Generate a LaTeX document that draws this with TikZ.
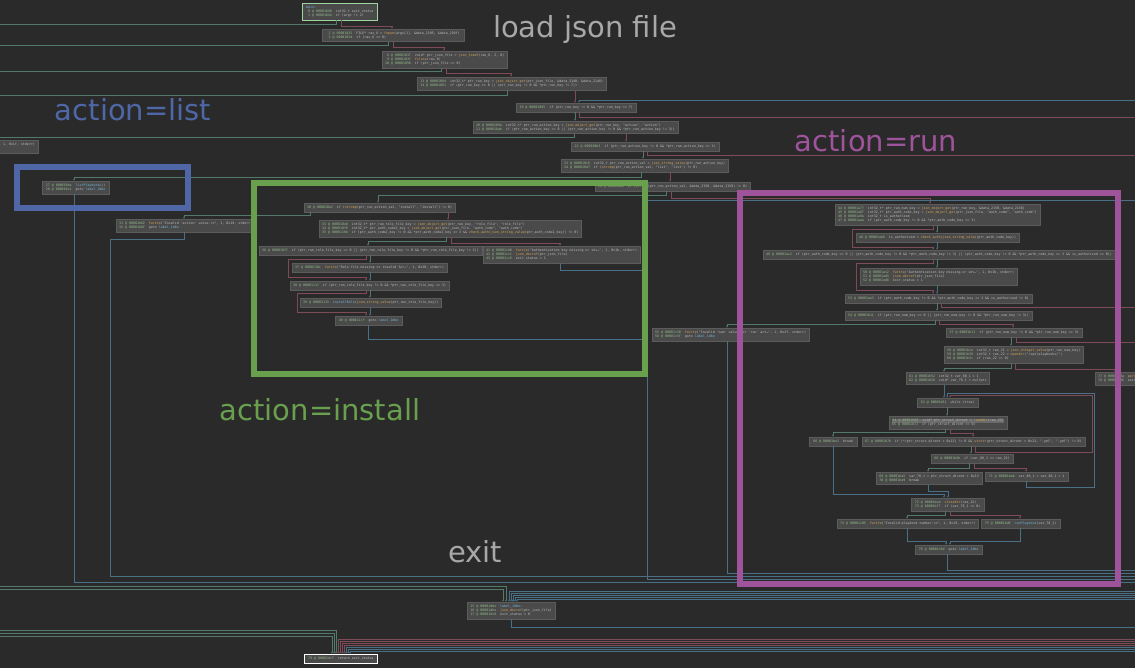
\documentclass[tikz,border=0pt]{standalone}
\usepackage{fontspec}
\setmainfont{DejaVu Sans}
\setmonofont{DejaVu Sans Mono}
\usetikzlibrary{arrows.meta,shadows}

\newcommand\ad[2]{\textcolor{addrc}{\makebox[1.204em][r]{#1} @ #2}\ \ }
\newcommand\fn[1]{\textcolor{fnc}{#1}}
\newcommand\lbl[1]{\textcolor{lblc}{#1}}

\begin{document}
\begin{tikzpicture}[x=1pt,y=-1pt,
  blk/.style={draw=blkline,line width=0.3pt,fill=blkfill,text=codetxt,anchor=north west,align=left,
    inner xsep=3pt,inner ysep=2.5pt,minimum height=9pt,font=\ttfamily\fontsize{3.3}{4.2}\selectfont,
    drop shadow={shadow xshift=0.8pt,shadow yshift=-0.8pt,fill=black,opacity=0.55}},
  mainblk/.style={blk,draw=maincol,line width=0.8pt},
  retblk/.style={blk,draw=white,line width=0.8pt},
  tedge/.style={draw=tcol,line width=0.75pt,-{Latex[length=2.2pt,width=2pt]}},
  fedge/.style={draw=fcol,line width=0.75pt,-{Latex[length=2.2pt,width=2pt]}},
  uedge/.style={draw=ucol,line width=0.75pt,-{Latex[length=2.2pt,width=2pt]}},
  selbox/.style={line width=6pt},
  bigtxt/.style={font=\fontsize{29}{30}\selectfont}]
\definecolor{bgc}{HTML}{2A2A2A}
\definecolor{blkfill}{HTML}{4A4A4A}
\definecolor{blkline}{HTML}{5C5C5C}
\definecolor{codetxt}{HTML}{BDBDBD}
\definecolor{addrc}{HTML}{93B98A}
\definecolor{fnc}{HTML}{D8A657}
\definecolor{lblc}{HTML}{74B5D6}
\definecolor{hlc}{HTML}{6A6A6A}
\definecolor{tcol}{HTML}{527A6B}
\definecolor{fcol}{HTML}{7E4B57}
\definecolor{ucol}{HTML}{4A7088}
\definecolor{maincol}{HTML}{9FD49F}
\definecolor{titlec}{HTML}{A8A8A8}
\definecolor{listc}{HTML}{4F67A7}
\definecolor{installc}{HTML}{68A04E}
\definecolor{runc}{HTML}{9F539B}
\useasboundingbox (0,0) rectangle (1135,668);
\fill[bgc] (0,0) rectangle (1135,668);
\clip (0,0) rectangle (1135,668);
\coordinate (offR100) at (1140,100);
\coordinate (offR200) at (1140,200);

% load json file
\node[mainblk,minimum width=75pt] (b0) at (302,3) {\lbl{main:}\\\ad{0}{00001040}int32\_t exit\_status\\\ad{1}{00001044}if (argc != 2)};
\node[blk,minimum width=142pt] (b2) at (322,29) {\ad{2}{00001025}FILE* rax\_6 = \fn{fopen}(argv[1], \&data\_2105, \&data\_210f)\\\ad{3}{0000102d}if (rax\_6 == 0)};
\node[blk,minimum width=125pt] (b8) at (382,51) {\ad{8}{00001037}void* ptr\_json\_file = \fn{json\_loadf}(rax\_6, 2, 0)\\\ad{9}{0000103f}\fn{fclose}(rax\_6)\\\ad{10}{00001050}if (ptr\_json\_file == 0)};
\node[blk,minimum width=189pt] (b13) at (417,77) {\ad{13}{0000106d}int32\_t* ptr\_run\_key = \fn{json\_object\_get}(ptr\_json\_file, \&data\_2140, \&data\_2148)\\\ad{14}{00001081}if (ptr\_run\_key == 0 || (ptr\_run\_key != 0 \&\& *ptr\_run\_key != 7))};
\node[blk,minimum width=120pt] (b19) at (516,103) {\ad{19}{00001085}if (ptr\_run\_key != 0 \&\& *ptr\_run\_key == 7)};
\node[blk,minimum width=204pt] (b20) at (473,121) {\ad{20}{0000109a}int32\_t* ptr\_run\_action\_key = \fn{json\_object\_get}(ptr\_run\_key, "action", "action")\\\ad{21}{000010ab}if (ptr\_run\_action\_key == 0 || (ptr\_run\_action\_key != 0 \&\& *ptr\_run\_action\_key != 3))};
\node[blk,minimum width=148pt] (b31) at (571,142) {\ad{22}{000010b3}if (ptr\_run\_action\_key != 0 \&\& *ptr\_run\_action\_key == 3)};
\node[blk,minimum width=167pt] (b33) at (561,159) {\ad{23}{000010c6}int32\_t ptr\_run\_action\_val = \fn{json\_string\_value}(ptr\_run\_action\_key)\\\ad{24}{000010d7}if (\fn{strcmp}(ptr\_run\_action\_val, "list", "list") != 0)};
\node[blk,minimum width=155pt] (b35) at (595,182) {\ad{26}{000010e6}if (\fn{strcmp}(ptr\_run\_action\_val, \&data\_2150, \&data\_2158) != 0)};
\node[blk,anchor=north east] (bleft) at (38,140) {\ad{11}{00001d84}\fn{fwrite}("Failed to parse JSON.\textbackslash n", 1, 0x1f, stderr)\\\ad{12}{00001d95}goto \lbl{label\_1dbe}};

% action=list
\node[blk,minimum width=67pt] (bl27) at (42,181) {\ad{27}{000010da}\lbl{listPlaybooks}()\\\ad{28}{000010e1}goto \lbl{label\_1dbe}};
\node[blk,minimum width=136pt] (bi31) at (116,219) {\ad{31}{00001b62}\fn{fwrite}("Invalid 'action' value.\textbackslash n", 1, 0x19, stderr)\\\ad{32}{00001b6f}goto \lbl{label\_1dbe}};

% action=install
\node[blk,minimum width=150pt] (bi38) at (304,203) {\ad{30}{000010e2}if (\fn{strcmp}(ptr\_run\_action\_val, "install", "install") != 0)};
\node[blk,minimum width=260pt] (bi33) at (319,220) {\ad{33}{000010e8}int32\_t* ptr\_run\_role\_file\_key = \fn{json\_object\_get}(ptr\_run\_key, "role\_file", "role\_file")\\\ad{34}{000010f6}int32\_t* ptr\_auth\_code2\_key = \fn{json\_object\_get}(ptr\_json\_file, "auth\_code", "auth\_code")\\\ad{35}{00001104}if (ptr\_auth\_code2\_key != 0 \&\& *ptr\_auth\_code2\_key == 3 \&\& \fn{check\_auth}(\fn{json\_string\_value}(ptr\_auth\_code2\_key)) != 0)};
\node[blk,minimum width=221pt] (bi36) at (259,246) {\ad{36}{000010ff}if (ptr\_run\_role\_file\_key == 0 || (ptr\_run\_role\_file\_key != 0 \&\& *ptr\_run\_role\_file\_key != 3))};
\node[blk,minimum width=155pt] (bi41) at (483,246) {\ad{41}{00001cb0}\fn{fwrite}("Authentication key missing or inv\ldots", 1, 0x1b, stderr)\\\ad{42}{00001cc1}\fn{json\_decref}(ptr\_json\_file)\\\ad{43}{00001cc6}exit\_status = 1};
\node[blk,minimum width=155pt] (bi37) at (292,263) {\ad{37}{0000110c}\fn{fwrite}("Role file missing or invalid for\ldots", 1, 0x20, stderr)};
\node[blk,minimum width=159pt] (bi38b) at (290,281) {\ad{38}{0000111f}if (ptr\_run\_role\_file\_key != 0 \&\& *ptr\_run\_role\_file\_key == 3)};
\node[blk,minimum width=140pt] (bi39) at (300,298) {\ad{39}{00001133}\lbl{installRole}(\fn{json\_string\_value}(ptr\_run\_role\_file\_key))};
\node[blk,minimum width=67pt] (bi40) at (335,316) {\ad{40}{000011cf}goto \lbl{label\_1dbe}};

% action=run
\node[blk,minimum width=203pt] (br44) at (835,204) {\ad{44}{00001a77}int32\_t* ptr\_run\_num\_key = \fn{json\_object\_get}(ptr\_run\_key, \&data\_2150, \&data\_2158)\\\ad{45}{00001a87}int32\_t* ptr\_auth\_code\_key = \fn{json\_object\_get}(ptr\_json\_file, "auth\_code", "auth\_code")\\\ad{46}{00001a9a}int32\_t is\_authorized\\\ad{47}{00001aaa}if (ptr\_auth\_code\_key != 0 \&\& *ptr\_auth\_code\_key == 3)};
\node[blk,minimum width=163pt] (br48) at (856,233) {\ad{48}{00001ab6}is\_authorized = \fn{check\_auth}(\fn{json\_string\_value}(ptr\_auth\_code\_key))};
\node[blk,minimum width=348pt] (br49) at (763,250) {\ad{49}{00001ac2}if (ptr\_auth\_code\_key == 0 || (ptr\_auth\_code\_key != 0 \&\& *ptr\_auth\_code\_key != 3) || (ptr\_auth\_code\_key != 0 \&\& *ptr\_auth\_code\_key == 3 \&\& is\_authorized == 0))};
\node[blk,minimum width=155pt] (br50) at (860,268) {\ad{50}{00001ac2}\fn{fwrite}("Authentication key missing or inv\ldots", 1, 0x1b, stderr)\\\ad{51}{00001ad3}\fn{json\_decref}(ptr\_json\_file)\\\ad{52}{00001ad8}exit\_status = 1};
\node[blk,minimum width=186pt] (br53) at (845,294) {\ad{53}{00001ae3}if (ptr\_auth\_code\_key != 0 \&\& *ptr\_auth\_code\_key == 3 \&\& is\_authorized != 0)};
\node[blk,minimum width=186pt] (br54) at (845,311) {\ad{54}{00001b11}if (ptr\_run\_num\_key == 0 || (ptr\_run\_num\_key != 0 \&\& *ptr\_run\_num\_key != 3))};
\node[blk,minimum width=154pt] (br55) at (652,328) {\ad{55}{00001c50}\fn{fwrite}("Invalid 'num' value for 'run' act\ldots", 1, 0x2f, stderr)\\\ad{56}{00001c5f}goto \lbl{label\_1dbe}};
\node[blk,minimum width=136pt] (br57) at (946,328) {\ad{57}{00001b1f}if (ptr\_run\_num\_key != 0 \&\& *ptr\_run\_num\_key == 3)};
\node[blk,minimum width=139pt] (br58) at (944,346) {\ad{58}{00001b2a}int32\_t rax\_21 = \fn{json\_integer\_value}(ptr\_run\_num\_key)\\\ad{59}{00001b38}int32\_t rax\_22 = \fn{opendir}("/opt/playbooks/")\\\ad{60}{00001b3c}if (rax\_22 == 0)};
\node[blk,minimum width=83pt] (br61) at (906,372) {\ad{61}{00001b52}int32\_t var\_88\_1 = 1\\\ad{62}{00001b58}void* var\_78\_1 = nullptr};
\node[blk] (br77) at (1095,372) {\ad{77}{00001c3a}\fn{perror}("Failed to open playbooks directory")\\\ad{78}{00001c46}exit\_status = 1};
\node[blk,minimum width=61pt] (br63) at (917,398) {\ad{63}{00001b61}while (true)};
\node[blk,minimum width=118pt] (br64) at (889,416) {{\setlength{\fboxsep}{0.3pt}\colorbox{hlc}{\ad{64}{00001b66}void* ptr\_struct\_dirent = \fn{readdir}(rax\_22)}}\\\ad{65}{00001b72}if (ptr\_struct\_dirent == 0)};
\node[blk,minimum width=48pt] (br66) at (809,437) {\ad{66}{00001be2}break};
\node[blk,minimum width=221pt] (br67) at (862,437) {\ad{67}{00001b7b}if (*(ptr\_struct\_dirent + 0x13) != 0 \&\& \fn{strstr}(ptr\_struct\_dirent + 0x13, ".yml", ".yml") != 0)};
\node[blk,minimum width=82pt] (br68) at (931,454) {\ad{68}{00001b8b}if (var\_88\_1 == rax\_21)};
\node[blk,minimum width=106pt] (br69) at (876,472) {\ad{69}{00001ba5}var\_78\_1 = ptr\_struct\_dirent + 0x13\\\ad{70}{00001ba9}break};
\node[blk,minimum width=83pt] (br71) at (985,472) {\ad{71}{00001bab}var\_88\_1 = var\_88\_1 + 1};
\node[blk,minimum width=73pt] (br72) at (911,498) {\ad{72}{00001bed}\fn{closedir}(rax\_22)\\\ad{73}{00001bf7}if (var\_78\_1 == 0)};
\node[blk,minimum width=141pt] (br74) at (837,519) {\ad{74}{00001c05}\fn{fwrite}("Invalid playbook number.\textbackslash n", 1, 0x19, stderr)};
\node[blk,minimum width=79pt] (br75) at (981,519) {\ad{75}{00001bd8}\lbl{runPlaybook}(var\_78\_1)};
\node[blk,minimum width=67pt] (br76) at (915,545) {\ad{76}{00001c0d}goto \lbl{label\_1dbe}};

% exit
\node[blk,minimum width=88pt] (bx) at (467,602) {\ad{15}{00001dbe}\lbl{label\_1dbe}:\\\ad{16}{00001dbe}\fn{json\_decref}(ptr\_json\_file)\\\ad{17}{00001dc6}exit\_status = 0};
\node[retblk,minimum width=73pt] (bret) at (304,654) {\ad{79}{00001dc7}return exit\_status};

% edges: load json file
\draw[tedge] (b0.south -| 336,0) |- (-5,24) -- (-5,630) -| (bret.north -| 336,0);
\draw[fedge] (b0.south -| 341,0) |- (392,26) -- (b2.north -| 392,0);
\draw[tedge] (b2.south -| 388,0) |- (-5,45) -- (-5,633) -| (bret.north -| 334,0);
\draw[fedge] (b2.south -| 393,0) |- (444,47.5) -- (b8.north -| 444,0);
\draw[tedge] (b8.south -| 441,0) |- (-5,71) -- (-5,636) -| (bret.north -| 332,0);
\draw[fedge] (b8.south -| 446,0) |- (511,73) -- (b13.north -| 511,0);
\draw[tedge] (b13.south -| 507,0) |- (-5,95) -- (-5,586) -| (bx.north -| 506,0);
\draw[fedge] (b13.south -| 575,0) -- (b19.north -| 575,0);
\draw[uedge] (offR100) -| (b19.north -| 579,0);
\draw[tedge] (b19.south -| 575,0) -- (b20.north -| 575,0);
\draw[fedge] (b19.south -| 579,0) |- (1140,117) -- (1140,639) -| (bret.north -| 338,0);
\draw[tedge] (b20.south -| 574,0) |- (-5,137) -- (-5,589) -| (bx.north -| 503,0);
\draw[fedge] (b20.south -| 626,0) -- (b31.north -| 626,0);
\draw[tedge] (b31.south -| 643,0) -- (b33.north -| 643,0);
\draw[fedge] (b31.south -| 647,0) |- (1140,155.5) -- (1140,641) -| (bret.north -| 340,0);
\draw[tedge] (b33.south -| 641,0) |- (74,177) -- (bl27.north -| 74,0);
\draw[fedge] (b33.south -| 670,0) -- (b35.north -| 670,0);
\draw[tedge] (b35.south -| 666,0) |- (378,195.5) -- (bi38.north -| 378,0);
\draw[fedge] (b35.south -| 671,0) |- (930,198) -- (br44.north -| 930,0);
\draw[uedge] (offR200) -| (647,579) -- (1140,579) -- (1140,595) -| (bx.north -| 513,0);

% edges: list and install
\draw[uedge] (bl27.south -| 74,0) |- (1140,582) -- (1140,591) -| (bx.north -| 509,0);
\draw[tedge] (bi38.south -| 310,0) |- (184,215) -- (bi31.north -| 184,0);
\draw[uedge] (bi31.south -| 184,0) |- (110,239) |- (1140,576) -- (1140,593) -| (bx.north -| 511,0);
\draw[fedge] (bi38.south -| 448,0) -- (bi33.north -| 448,0);
\draw[tedge] (bi33.south -| 446,0) |- (368,241.5) -- (bi36.north -| 368,0);
\draw[fedge] (bi33.south -| 451,0) |- (560,243.5) -- (bi41.north -| 560,0);
\draw[uedge] (bi41.south -| 560,0) |- (647,270) -- (647,579) -- (1140,579) -- (1140,649) -| (bret.north -| 348,0);
\draw[tedge] (bi36.south -| 370,0) -- (bi37.north -| 370,0);
\draw[fedge] (bi36.south -| 366,0) |- (288,259.5) |- (366,277.5) -- (bi38b.north -| 366,0);
\draw[uedge] (bi37.south -| 370,0) -- (bi38b.north -| 370,0);
\draw[tedge] (bi38b.south -| 370,0) -- (bi39.north -| 370,0);
\draw[fedge] (bi38b.south -| 366,0) |- (297,293.5) |- (366,312) -- (bi40.north -| 366,0);
\draw[uedge] (bi39.south -| 370,0) -- (bi40.north -| 370,0);
\draw[uedge] (bi40.south -| 368,0) |- (647,339) -- (647,579) -- (1140,579) -- (1140,595) -| (bx.north -| 513,0);

% edges: run
\draw[tedge] (br44.south -| 937,0) -- (br48.north -| 937,0);
\draw[fedge] (br44.south -| 933,0) |- (852,229.5) |- (933,247) -- (br49.north -| 933,0);
\draw[uedge] (br48.south -| 937,0) -- (br49.north -| 937,0);
\draw[tedge] (br49.south -| 937,0) -- (br50.north -| 937,0);
\draw[fedge] (br49.south -| 933,0) |- (856,263.5) |- (933,290) -- (br53.north -| 933,0);
\draw[uedge] (br50.south -| 937,0) -- (br53.north -| 937,0);
\draw[tedge] (br53.south -| 937,0) -- (br54.north -| 937,0);
\draw[fedge] (br53.south -| 941,0) |- (1140,307) -- (1140,643) -| (bret.north -| 342,0);
\draw[tedge] (br54.south -| 935,0) |- (727,324) -- (br55.north -| 727,0);
\draw[fedge] (br54.south -| 939,0) |- (1013,324.5) -- (br57.north -| 1013,0);
\draw[uedge] (br55.south -| 727,0) |- (1140,573) -- (1140,597) -| (bx.north -| 515,0);
\draw[tedge] (br57.south -| 1011,0) -- (br58.north -| 1011,0);
\draw[fedge] (br57.south -| 1016,0) |- (1140,342) -- (1140,645) -| (bret.north -| 344,0);
\draw[tedge] (br58.south -| 1011,0) |- (944,368) -- (br61.north -| 944,0);
\draw[fedge] (br58.south -| 1015,0) |- (1115,369) -- (br77.north -| 1115,0);
\draw[uedge] (br77.south -| 1150,0) -- (1150,647) -| (bret.north -| 346,0);
\draw[uedge] (br61.south -| 944,0) -- (br63.north -| 944,0);
\draw[fedge] (br67.south -| 975,0) |- (1092,452) |- (950,395) -- (br63.north -| 950,0);
\draw[uedge] (br71.south -| 1026,0) |- (1094,487) |- (947,393) -- (br63.north -| 947,0);
\draw[tedge] (br63.south -| 947,0) -- (br64.north -| 947,0);
\draw[tedge] (br64.south -| 945,0) |- (833,432) -- (br66.north -| 833,0);
\draw[fedge] (br64.south -| 950,0) |- (973,433.5) -- (br67.north -| 973,0);
\draw[uedge] (br66.south -| 833,0) |- (944,494) -- (br72.north -| 944,0);
\draw[tedge] (br67.south -| 971,0) -- (br68.north -| 971,0);
\draw[tedge] (br68.south -| 969,0) |- (928,468) -- (br69.north -| 928,0);
\draw[fedge] (br68.south -| 974,0) |- (1026,468.5) -- (br71.north -| 1026,0);
\draw[uedge] (br69.south -| 928,0) |- (948,491) -- (br72.north -| 948,0);
\draw[tedge] (br72.south -| 945,0) |- (907,515) -- (br74.north -| 907,0);
\draw[fedge] (br72.south -| 950,0) |- (1020,515.5) -- (br75.north -| 1020,0);
\draw[uedge] (br74.south -| 907,0) |- (946,541) -- (br76.north -| 946,0);
\draw[uedge] (br75.south -| 1020,0) |- (950,541) -- (br76.north -| 950,0);
\draw[uedge] (br76.south -| 947,0) |- (1140,570) -- (1140,599) -| (bx.north -| 517,0);

% edges: exit
\draw[uedge] (bx.south -| 511,0) |- (1140,627) -- (1140,651) -| (bret.north -| 350,0);

% section boxes and titles
\foreach \clr/\xa/\ya/\xb/\yb in {listc/17/167/188/208,installc/254/183/645/374,runc/740/193/1118/584}
  {\draw[selbox,draw=\clr] (\xa,\ya) rectangle (\xb,\yb);}
\node[bigtxt,text=titlec] (tload) at (585,30) {load json file};
\node[bigtxt,text=listc] (tlist) at (133,110) {action=list};
\node[bigtxt,text=runc] (trun) at (876,141) {action=run};
\node[bigtxt,text=installc] (tinstall) at (320,410) {action=install};
\node[bigtxt,text=titlec] (texit) at (475,552) {exit};
\end{tikzpicture}
\end{document}
